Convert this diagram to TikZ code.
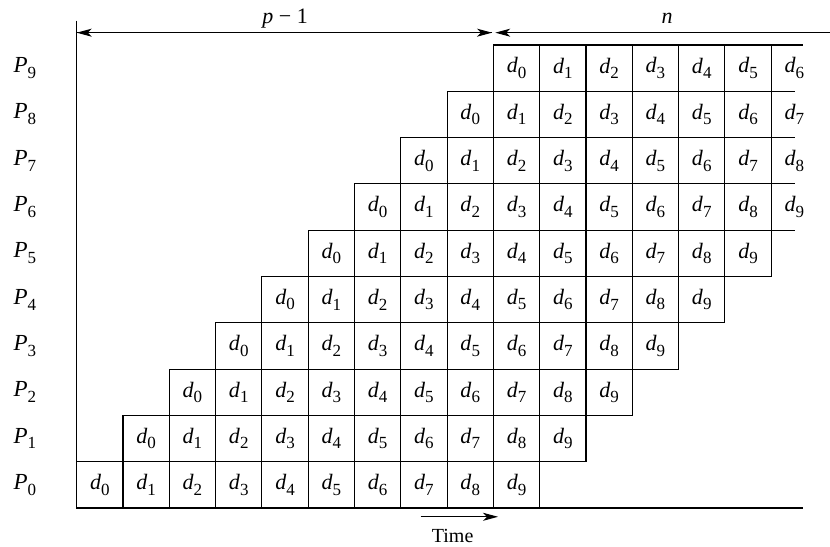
\documentclass[tikz,border=0pt]{standalone}
\usepackage{fontspec}
\setmainfont{Liberation Serif}[ItalicFont={Liberation Serif Italic}]
\usetikzlibrary{arrows.meta}

\newcommand\dsub[1]{\textit{d}\raisebox{-0.55ex}{\fontsize{8.5}{9}\selectfont #1}}
\newcommand\psub[1]{\textit{P}\raisebox{-0.55ex}{\fontsize{8.5}{9}\selectfont #1}}

\tikzset{
  every path/.style={line width=0.55pt},
  cellbox/.style={draw, minimum size=23.15pt, inner sep=0pt, font=\fontsize{11}{13}\selectfont},
  cellfree/.style={minimum size=23.15pt, inner sep=0pt, outer sep=0pt, font=\fontsize{11}{13}\selectfont},
  plabel/.style={inner sep=0pt, font=\fontsize{11.5}{13}\selectfont},
  spantip/.style={-{Stealth[length=7.5pt,width=4pt,inset=2pt]}},
}

\begin{document}
\begin{tikzpicture}[x=23.15pt,y=23.15pt]
    \useasboundingbox (-1.657,-0.821) rectangle (16.27,10.972);

    % axes
    \coordinate (axtop) at (0,10.525);
    \coordinate (axorg) at (0,0);
    \coordinate (axend) at (15.69,0);
    \draw (axtop) -- (axorg) -- (axend);

    % processor rows
    \foreach \r in {0,...,9}{
        \node[plabel] (p\r) at (-1.12,\r+0.5) {\psub{\r}};
        \foreach \k in {0,...,9}{
            \pgfmathtruncatemacro\c{\r+\k}
            \ifnum\c<15
                \node[cellbox] (c\r-\k) at (\c+0.5,\r+0.5) {\dsub{\k}};
            \else\ifnum\c=15
                \node[cellfree] (c\r-\k) at (\c+0.5,\r+0.5) {\dsub{\k}};
                \draw (c\r-\k.north west) -- ++(0.51,0)
                      (c\r-\k.south west) -- ++(0.51,0);
            \fi\fi
        }
    }
    \draw (c9-6.north west) -- ++(0.69,0);

    % spans
    \coordinate (spl) at (0,10.266);
    \coordinate (spm) at (8.97,10.266);
    \coordinate (spn) at (9.04,10.266);
    \coordinate (spr) at (16.27,10.266);
    \draw[spantip] (spm) -- (spl);
    \draw[spantip] (spl) -- (spm);
    \draw[spantip] (spr) -- (spn);
    \node[anchor=base, font=\fontsize{11}{13}\selectfont] (pmin) at (4.5,10.46) {\textit{p} − 1};
    \node[anchor=base, font=\fontsize{11}{13}\selectfont] (nlen) at (12.75,10.46) {\textit{n}};

    % time
    \coordinate (tm0) at (7.43,-0.19);
    \coordinate (tm1) at (9.10,-0.19);
    \draw[spantip] (tm0) -- (tm1);
    \node[font=\fontsize{10}{12}\selectfont] (time) at (8.12,-0.6) {Time};
\end{tikzpicture}
\end{document}
